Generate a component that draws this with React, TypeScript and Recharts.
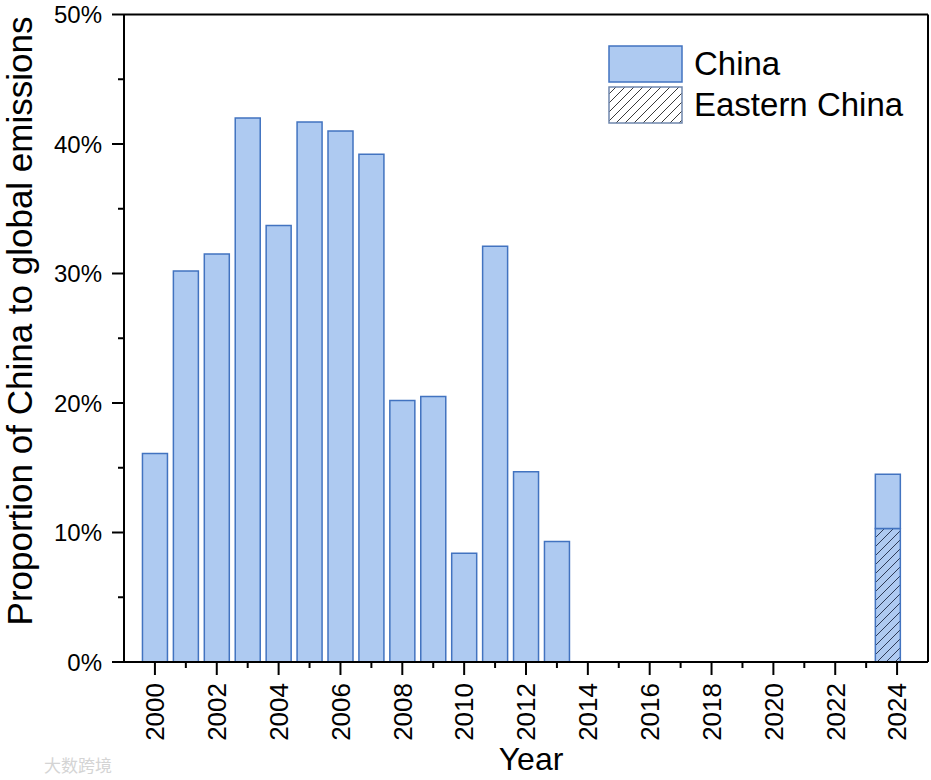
import React from 'react';
import { BarChart, Bar, XAxis, YAxis, ReferenceLine, Legend, Label } from 'recharts';

// ---- data ----
const years = [2000, 2001, 2002, 2003, 2004, 2005, 2006, 2007, 2008, 2009, 2010, 2011, 2012, 2013, 2023.7];
const chinaShare = [16.1, 30.2, 31.5, 42.0, 33.7, 41.7, 41.0, 39.2, 20.2, 20.5, 8.4, 32.1, 14.7, 9.3, 14.5];
const easternChinaShare = [0, 0, 0, 0, 0, 0, 0, 0, 0, 0, 0, 0, 0, 0, 10.3];
const xTicks = [2000, 2001, 2002, 2003, 2004, 2005, 2006, 2007, 2008, 2009, 2010, 2011, 2012, 2013, 2014, 2015, 2016, 2017, 2018, 2019, 2020, 2021, 2022, 2023, 2024];
const yTicks = [0, 5, 10, 15, 20, 25, 30, 35, 40, 45, 50];

const data = years.map((yr, i) => ({
  year: yr,
  eastern: easternChinaShare[i],
  chinaRest: chinaShare[i] - easternChinaShare[i],
}));

const FONT = '"Liberation Sans", Arial, Helvetica, sans-serif';
const FILL = '#aecaf1';
const STROKE = '#4273c0';
const X_FS = 26;
const Y_FS = 24;

const XTick = (props: any) => {
  const { x, y, payload } = props;
  const v = payload.value;
  const major = v % 2 === 0;
  const tx = x + X_FS * 0.358;
  const ty = y + 21;
  return (
    <g>
      <line x1={x} x2={x} y1={y} y2={y + (major ? 13 : 6)} stroke="#000" strokeWidth={2} />
      {major && (
        <text x={tx} y={ty} transform={`rotate(-90, ${tx}, ${ty})`} textAnchor="end" fontSize={X_FS} fontFamily={FONT} fill="#000">
          {String(v)}
        </text>
      )}
    </g>
  );
};

const YTick = (props: any) => {
  const { x, y, payload } = props;
  const v = payload.value;
  const major = v % 10 === 0;
  return (
    <g>
      <line x1={x - (major ? 12 : 6)} x2={x} y1={y} y2={y} stroke="#000" strokeWidth={2} />
      {major && (
        <text x={x - 22} y={y + Y_FS * 0.358} textAnchor="end" fontSize={Y_FS} fontFamily={FONT} fill="#000">
          {`${v}%`}
        </text>
      )}
    </g>
  );
};

const renderLegend = () => (
  <div style={{ fontFamily: FONT, fontSize: 33, color: '#000', lineHeight: 1 }}>
    <div style={{ display: 'flex', alignItems: 'center', height: 37, marginBottom: 4 }}>
      <svg width={76} height={38} style={{ display: 'block' }}>
        <rect x={1} y={1} width={73} height={36} fill={FILL} stroke={STROKE} strokeWidth={1.5} />
      </svg>
      <span style={{ marginLeft: 10 }}>China</span>
    </div>
    <div style={{ display: 'flex', alignItems: 'center', height: 37 }}>
      <svg width={76} height={38} style={{ display: 'block' }}>
        <defs>
          <pattern id="hatchWhite" patternUnits="userSpaceOnUse" width={9} height={9}>
            <rect width={9} height={9} fill="#fff" />
            <path d="M0,9 L9,0 M-2,2 L2,-2 M7,11 L11,7" stroke="#222" strokeWidth={0.9} />
          </pattern>
        </defs>
        <rect x={1} y={1} width={73} height={36} fill="url(#hatchWhite)" stroke="#6f87ad" strokeWidth={1.5} />
      </svg>
      <span style={{ marginLeft: 10 }}>Eastern China</span>
    </div>
  </div>
);

export default function App() {
  return (
    <div style={{ position: 'absolute', left: 0, top: 0, width: 931, height: 780, background: '#fff' }}>
      <BarChart width={931} height={780} data={data} margin={{ top: 14.5, right: 3, left: 0, bottom: 0 }}>
        <defs>
          <pattern id="hatchBlue" patternUnits="userSpaceOnUse" width={9} height={9}>
            <rect width={9} height={9} fill={FILL} />
            <path d="M0,9 L9,0 M-2,2 L2,-2 M7,11 L11,7" stroke="#1f2a45" strokeWidth={0.9} />
          </pattern>
        </defs>
        <XAxis
          dataKey="year"
          type="number"
          domain={[1999, 2025]}
          ticks={xTicks}
          interval={0}
          height={118}
          tickSize={0}
          tickMargin={0}
          tickLine={false}
          axisLine={{ stroke: '#000', strokeWidth: 2 }}
          tick={XTick}
        >
          <Label
            content={() => (
              <text x={531} y={770} textAnchor="middle" fontSize={32} fontFamily={FONT} fill="#000">
                Year
              </text>
            )}
          />
        </XAxis>
        <YAxis
          type="number"
          domain={[0, 50]}
          ticks={yTicks}
          interval={0}
          width={124}
          tickSize={0}
          tickMargin={0}
          tickLine={false}
          axisLine={{ stroke: '#000', strokeWidth: 2 }}
          tick={YTick}
        >
          <Label
            content={() => (
              <text x={32} y={321} transform="rotate(-90, 32, 321)" textAnchor="middle" fontSize={35} fontFamily={FONT} fill="#000">
                Proportion of China to global emissions
              </text>
            )}
          />
        </YAxis>
        <ReferenceLine y={50} stroke="#000" strokeWidth={2} />
        <ReferenceLine x={2025} stroke="#000" strokeWidth={2} />
        <Bar dataKey="eastern" name="Eastern China" stackId="s" fill="url(#hatchBlue)" stroke={STROKE} strokeWidth={1.5} barSize={25} isAnimationActive={false} />
        <Bar dataKey="chinaRest" name="China" stackId="s" fill={FILL} stroke={STROKE} strokeWidth={1.5} barSize={25} isAnimationActive={false} />
        <Legend
          layout="horizontal"
          align="center"
          verticalAlign="middle"
          content={renderLegend}
          wrapperStyle={{ position: 'absolute', left: 608, top: 45, width: 320, height: 80 }}
        />
      </BarChart>
      <div style={{ position: 'absolute', left: 44, top: 752, fontFamily: '"Noto Sans CJK SC", sans-serif', fontSize: 17, color: '#d4d4d4' }}>
        大数跨境
      </div>
    </div>
  );
}
